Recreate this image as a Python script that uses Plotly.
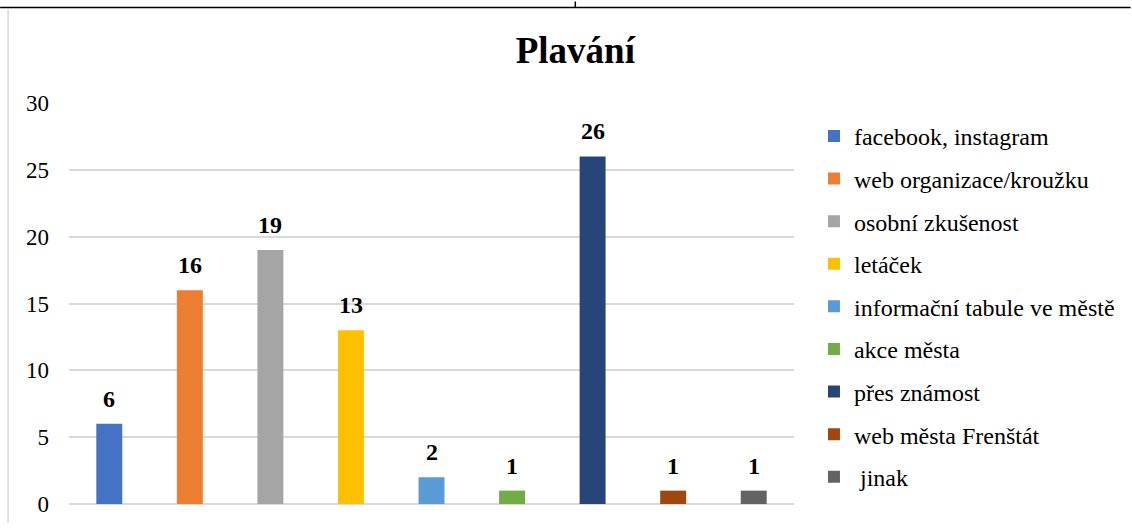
import plotly.graph_objects as go

categories = ["facebook, instagram", "web organizace/kroužku", "osobní zkušenost", "letáček",
              "informační tabule ve městě", "akce města", "přes známost", "web města Frenštát", " jinak"]
values = [6, 16, 19, 13, 2, 1, 26, 1, 1]
colors = ["#4472C4", "#ED7D31", "#A5A5A5", "#FFC000", "#5B9BD5", "#70AD47", "#264478", "#9E480E", "#636363"]
y_ticks = [0, 5, 10, 15, 20, 25, 30]

FONT = "Liberation Serif"

fig = go.Figure()
for i, (c, v, col) in enumerate(zip(categories, values, colors)):
    fig.add_trace(go.Bar(
        x=[c], y=[v], name=c, marker=dict(color=col, line=dict(width=0)),
        legendgroup=str(i),
    ))

L, R, T, B = 69, 1132 - 795, 103, 19
W, H = 1132 - L - R, 529 - T - B

def px(x):
    return (x - L) / W

def py(y):
    return (529 - B - y) / H

annotations = [
    dict(x=c, y=v, xref="x", yref="y", text=str(v), showarrow=False,
         yanchor="bottom", yshift=10,
         font=dict(family=FONT, size=24, color="black", weight="bold"))
    for c, v in zip(categories, values)
]

fig.update_layout(
    width=1132, height=529,
    margin=dict(l=L, r=R, t=T, b=B, pad=0),
    paper_bgcolor="white", plot_bgcolor="white",
    barmode="overlay", bargap=0.678,
    font=dict(family=FONT, size=23, color="#000000"),
    title=dict(text="<b>Plavání</b>", x=px(576), xref="paper", xanchor="center",
               y=1 - 50 / 529, yanchor="middle", font=dict(family=FONT, size=37, color="black")),
    showlegend=True,
    legend=dict(x=px(815), y=py(114), xanchor="left", yanchor="top",
                font=dict(family=FONT, size=24, color="#000000"),
                tracegroupgap=8.4, traceorder="grouped", itemwidth=30,
                bgcolor="rgba(0,0,0,0)"),
    xaxis=dict(showticklabels=False, showgrid=False, zeroline=False, showline=False,
               categoryorder="array", categoryarray=categories),
    yaxis=dict(range=[0, 30], tickvals=y_ticks, showgrid=True, gridcolor="#D9D9D9", gridwidth=1.5,
               zeroline=True, zerolinecolor="#D9D9D9", zerolinewidth=1.5, showline=False,
               ticks="", ticklabelstandoff=19,
               tickfont=dict(family=FONT, size=23, color="#000000")),
    annotations=annotations,
    shapes=[
        dict(type="line", xref="paper", yref="paper", x0=px(8), x1=px(8), y0=py(8), y1=py(529),
             line=dict(color="#D9D9D9", width=1.5)),
        dict(type="line", xref="paper", yref="paper", x0=px(0), x1=px(1132), y0=py(6), y1=py(6),
             line=dict(color="black", width=1.5)),
        dict(type="line", xref="paper", yref="paper", x0=px(576), x1=px(576), y0=py(0), y1=py(6),
             line=dict(color="black", width=1.5)),
    ],
)

fig.write_html("out.html", config={"displayModeBar": False},
               post_script="document.body.style.margin='0';document.body.style.overflow='hidden';")
